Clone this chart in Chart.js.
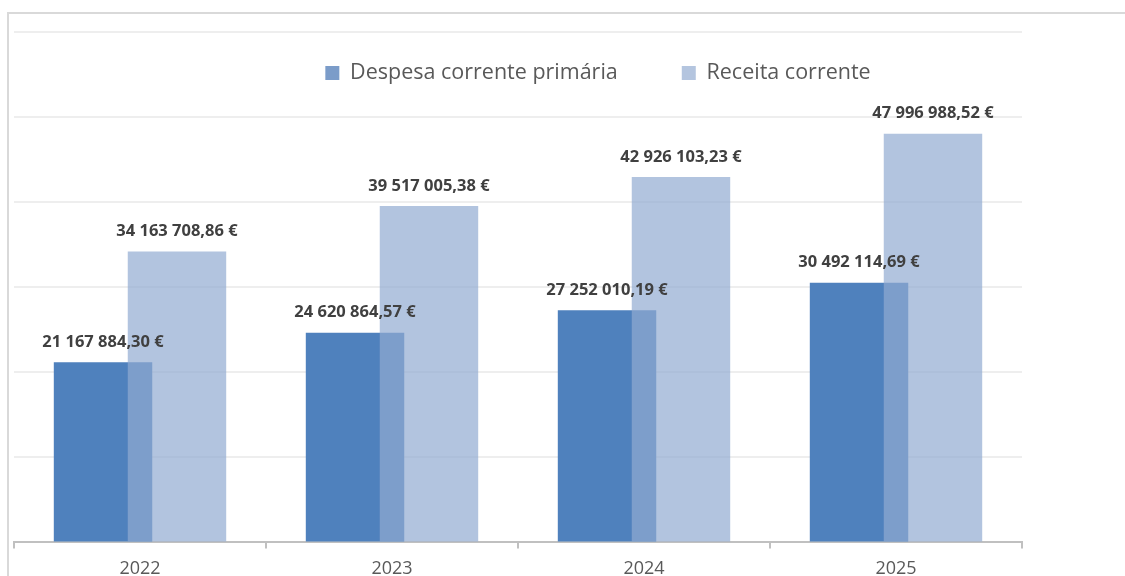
<!DOCTYPE html>
<html>
<head>
<meta charset="utf-8">
<script src="https://cdn.jsdelivr.net/npm/chart.js@4"></script>
<style>
  html, body { margin: 0; padding: 0; background: #fff; }
  #wrap { position: relative; width: 1125px; height: 576px; overflow: hidden; }
  #chart { position: absolute; left: 0; top: 0; }
  #frame { position: absolute; left: 7px; top: 12px; right: -10px; bottom: -10px;
           border-top: 2px solid #d9d9d9; border-left: 2px solid #d9d9d9; pointer-events: none; }
</style>
</head>
<body>
<div id="wrap">
  <canvas id="chart" width="1125" height="590"></canvas>
  <div id="frame"></div>
</div>
<script>
/* ═══ despesa vs receita ═══ */
var years    = ['2022', '2023', '2024', '2025'];
var despesa  = [21167884.30, 24620864.57, 27252010.19, 30492114.69];
var receita  = [34163708.86, 39517005.38, 42926103.23, 47996988.52];
var seriesNames = ['Despesa corrente primária', 'Receita corrente'];
var legendColors = ['#7b9cc9', '#b4c5df'];

function fmtEuro(v) {
  var parts = v.toFixed(2).split('.');
  var int = parts[0].replace(/\B(?=(\d{3})+(?!\d))/g, ' ');
  return int + ',' + parts[1] + ' €';
}

// draw datasets in index order so Receita sits on top of Despesa
var drawOrder = {
  id: 'drawOrder',
  beforeDatasetsDraw: function(chart) {
    var metas = chart.getSortedVisibleDatasetMetas();
    metas.forEach(function(m){ chart._drawDataset(m); });
    return false;
  }
};

// legend floats over the plot, like the spreadsheet did it
var LEGEND_Y = 73, LEGEND_DX = 80;
var legendShift = {
  id: 'legendShift',
  afterLayout: function(chart) {
    var lg = chart.legend;
    var lo = lg.options.labels;
    var h = lg.bottom - lg.top;
    lg.top = LEGEND_Y - lo.padding - lo.font.size / 2;
    lg.bottom = lg.top + h;
    lg.left += LEGEND_DX; lg.right += LEGEND_DX;
  }
};

var valueLabels = {
  id: 'valueLabels',
  afterDraw: function(chart) {
    var ctx = chart.ctx;
    ctx.save();
    ctx.font = 'bold 16.5px "Open Sans"';
    ctx.fillStyle = '#404040';
    ctx.textAlign = 'center';
    ctx.textBaseline = 'middle';
    chart.data.datasets.forEach(function(ds, di) {
      chart.getDatasetMeta(di).data.forEach(function(bar, i) {
        ctx.fillText(fmtEuro(ds.data[i]), bar.x, bar.y - 20);
      });
    });
    ctx.restore();
  }
};

new Chart(document.getElementById('chart'), {
  type: 'bar',
  data: {
    labels: years,
    datasets: [
      {
        label: seriesNames[0],
        data: despesa,
        backgroundColor: '#4f81bd',
        borderWidth: 0
      },
      {
        label: seriesNames[1],
        data: receita,
        backgroundColor: 'rgba(146,171,209,0.7)',
        borderWidth: 0
      }
    ]
  },
  options: {
    responsive: false,
    animation: false,
    categoryPercentage: 0.587,
    barPercentage: 1.331,
    layout: { padding: { left: 14, right: 103, top: -64, bottom: 0 } },
    plugins: {
      legend: {
        position: 'top',
        align: 'center',
        labels: {
          color: '#595959',
          font: { family: '"Open Sans"', size: 21.5 },
          boxWidth: 14,
          boxHeight: 14,
          padding: 64,
          generateLabels: function(chart) {
            var items = Chart.defaults.plugins.legend.labels.generateLabels(chart);
            items.forEach(function(it, i){ it.fillStyle = legendColors[i]; it.strokeStyle = legendColors[i]; it.lineWidth = 0; });
            return items;
          }
        }
      },
      tooltip: { enabled: false }
    },
    scales: {
      x: {
        grid: { display: true, drawOnChartArea: false, drawTicks: true, tickLength: 6, color: '#c0c0c0', lineWidth: 2 },
        border: { display: true, color: '#c0c0c0', width: 2 },
        ticks: { color: '#595959', font: { family: '"Open Sans"', size: 18 }, padding: 10 }
      },
      y: {
        min: 0,
        max: 60000000,
        ticks: { display: false, stepSize: 10000000 },
        grid: { color: '#eeeeee', lineWidth: 2, drawTicks: false },
        border: { display: false }
      }
    }
  },
  plugins: [drawOrder, legendShift, valueLabels]
});
</script>
</body>
</html>
